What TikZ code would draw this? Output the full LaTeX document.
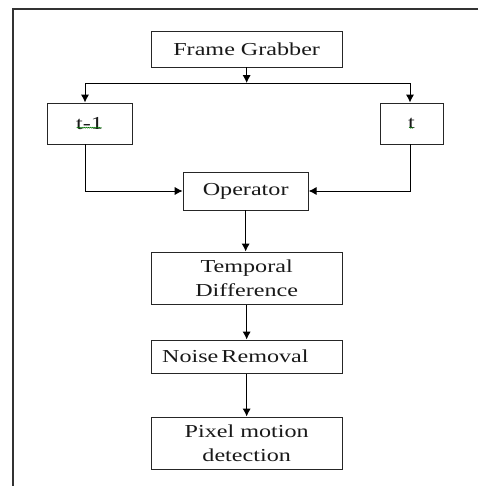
\documentclass[tikz,border=0pt]{standalone}
\usepackage{fontspec}
\setmainfont{Liberation Serif}[FakeStretch=1.32]
\usetikzlibrary{arrows.meta,decorations.pathmorphing}

\begin{document}
\begin{tikzpicture}[>={Latex[length=6.8pt,width=7pt]},line width=0.85pt,
 box/.style={draw=black!85,minimum height=1.08cm,align=center,font=\fontsize{15.6}{20.7}\selectfont,text=black!90},
 wide/.style={box,minimum width=5.73cm},
 squig/.style={green!45!black,line width=0.4pt,decorate,decoration={snake,amplitude=0.45pt,segment length=1.6pt}}]
\useasboundingbox (0,0) rectangle (14.34,-14.58);
\draw[line width=1.2pt,black!80] (14.34,-0.27) -| (0.39,-14.58);
\node[wide] (grab) at (7.4,-1.47) {Frame Grabber};
\node[box,minimum width=2.55cm,minimum height=1.23cm] (tprev) at (2.685,-3.705) {t-1};
\node[box,minimum width=1.89cm,minimum height=1.23cm] (tcur) at (12.345,-3.705) {t};
\node[box,minimum width=3.75cm,minimum height=1.14cm] (oper) at (7.37,-5.73) {Operator};
\node[wide,minimum height=1.56cm] (tdiff) at (7.4,-8.34) {Temporal\\Difference};
\node[box,minimum height=0.99cm,text width=5.07cm,inner xsep=0.33cm,align=left] (noise) at (7.4,-10.695) {Noise\,Removal};
\node[wide,minimum height=1.56cm] (pixel) at (7.4,-13.29) {Pixel motion\\detection};
\draw[squig] (2.3,-3.83) -- (3.05,-3.83);
\draw[squig] (12.27,-3.83) -- (12.4,-3.83);
\coordinate (lb) at (2.55,-2.49);
\coordinate (rb) at (12.3,-2.49);
\draw[->] (grab.south) -- (grab.south |- lb);
\draw (lb) -- (rb);
\draw[->] (lb) -- (lb |- tprev.north);
\draw[->] (rb) -- (rb |- tcur.north);
\draw[->] (lb |- tprev.south) |- (oper.west);
\draw[->] (rb |- tcur.south) |- (oper.east);
\draw[->] (oper.south) -- (oper.south |- tdiff.north);
\draw[->] (tdiff) -- (noise);
\draw[->] (noise) -- (pixel);
\end{tikzpicture}
\end{document}
